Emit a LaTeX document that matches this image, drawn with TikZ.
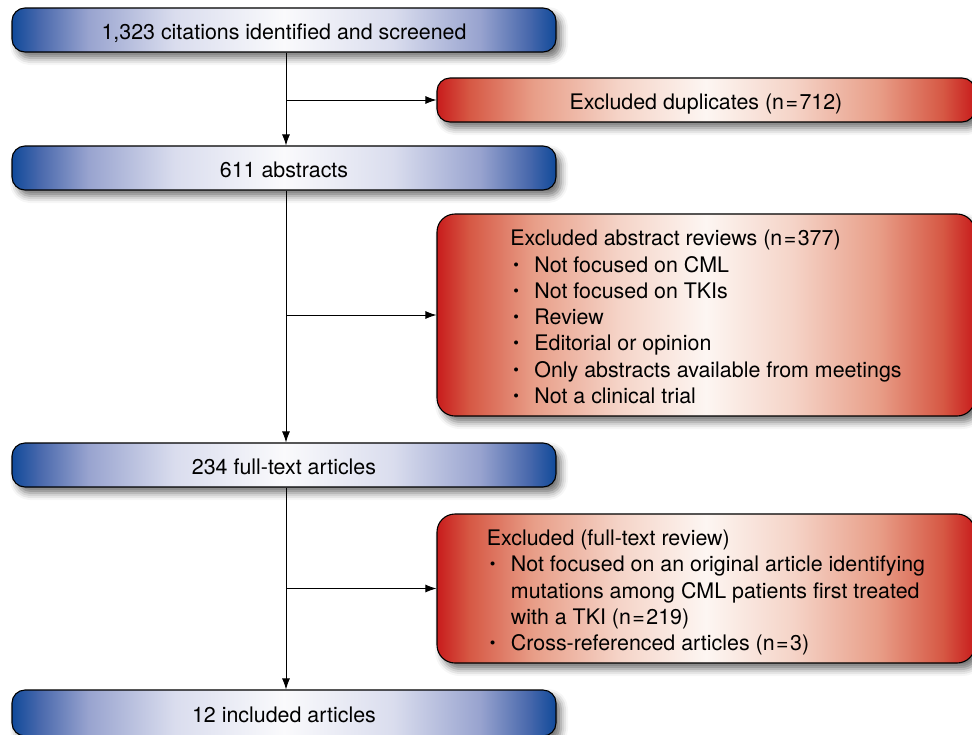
\documentclass[tikz,border=0pt]{standalone}
\usepackage{fontspec}
\setmainfont{TeX Gyre Heros}
\usetikzlibrary{arrows.meta,shadows.blur}
\definecolor{bA}{RGB}{16,74,154}
\definecolor{bB}{RGB}{72,104,172}
\definecolor{bC}{RGB}{152,163,207}
\definecolor{bD}{RGB}{218,221,238}
\definecolor{bE}{RGB}{250,250,252}
\definecolor{rA}{RGB}{200,28,28}
\definecolor{rB}{RGB}{214,88,68}
\definecolor{rC}{RGB}{232,158,136}
\definecolor{rD}{RGB}{245,212,200}
\definecolor{rE}{RGB}{253,246,242}
\pgfdeclarehorizontalshading{blueh}{100bp}{color(0bp)=(bA); color(25bp)=(bA); color(27.5bp)=(bB); color(32bp)=(bC); color(40bp)=(bD); color(50bp)=(bE); color(60bp)=(bD); color(68bp)=(bC); color(72.5bp)=(bB); color(75bp)=(bA); color(100bp)=(bA)}
\pgfdeclarehorizontalshading{redh}{100bp}{color(0bp)=(rA); color(25bp)=(rA); color(28bp)=(rB); color(34bp)=(rC); color(42bp)=(rD); color(50bp)=(rE); color(58bp)=(rD); color(66bp)=(rC); color(72bp)=(rB); color(75bp)=(rA); color(100bp)=(rA)}
\newcommand\bul{\makebox[24pt][l]{\hspace*{3pt}\raisebox{2pt}{\scalebox{0.75}{\textbullet}}}}
\newcommand\ind{\makebox[24pt][l]{}}
\newcommand\eqs{\hspace{1.5pt}=\hspace{1.5pt}}
\tikzset{
  txt/.style={font=\fontsize{21.4}{26.3}\selectfont, text=black},
  boxbase/.style={draw=black, line width=1.1pt, inner sep=0pt,
    blur shadow={shadow xshift=5pt, shadow yshift=-6pt, shadow blur radius=7pt, shadow opacity=55},
    txt},
  bluebox/.style={boxbase, shading=blueh, rounded corners=13pt,
    minimum width=544pt, minimum height=44pt, text height=18pt, text depth=0pt},
  redbox/.style={boxbase, shading=redh, rounded corners=#1,
    minimum width=538pt},
  listtext/.style={txt, align=left, inner sep=0pt},
  arr/.style={-{Latex[length=11pt,width=8pt]}, line width=0.9pt}
}
\begin{document}
\begin{tikzpicture}[x=1pt,y=-1pt]
\useasboundingbox (0,0) rectangle (972,734);
\clip (0,0) rectangle (972,734);
\node[bluebox] (b1) at (284,30) {1,323 citations identified and screened};
\node[redbox=13pt, minimum height=44pt, text height=18pt, text depth=0pt] (r1) at (706,100) {Excluded duplicates (n\eqs712)};
\node[bluebox] (b2) at (284,168) {611 abstracts};
\node[redbox=18pt, minimum height=202pt] (r2) at (706,315) {};
\node[listtext] (t2) at ([yshift=-2pt]r2.center) {Excluded abstract reviews (n\eqs377)\\
\bul Not focused on CML\\
\bul Not focused on TKIs\\
\bul Review\\
\bul Editorial or opinion\\
\bul Only abstracts available from meetings\\
\bul Not a clinical trial};
\node[bluebox] (b3) at (284,465) {234 full-text articles};
\node[redbox=18pt, minimum height=149pt] (r3) at (706,588.5) {};
\node[listtext] (t3) at ([yshift=-4pt]r3.center) {Excluded (full-text review)\\
\bul Not focused on an original article identifying\\
\ind mutations among CML patients first treated\\
\ind with a TKI (n\eqs219)\\
\bul Cross-referenced articles (n\eqs3)};
\node[bluebox, minimum height=46pt] (b4) at (284,713) {12 included articles};
% connectors
\draw[arr] ([xshift=2pt]b1.south) -- ([xshift=2pt]b2.north);
\draw[arr] ([xshift=2pt]b2.south) -- ([xshift=2pt]b3.north);
\draw[arr] ([xshift=2pt]b3.south) -- ([xshift=2pt]b4.north);
\coordinate (c1) at ([xshift=2pt]b1.south |- r1.west);
\coordinate (c2) at ([xshift=2pt]b2.south |- r2.west);
\coordinate (c3) at ([xshift=2pt]b3.south |- r3.west);
\draw[arr] (c1) -- (r1.west);
\draw[arr] (c2) -- (r2.west);
\draw[arr] (c3) -- (r3.west);
\end{tikzpicture}
\end{document}
